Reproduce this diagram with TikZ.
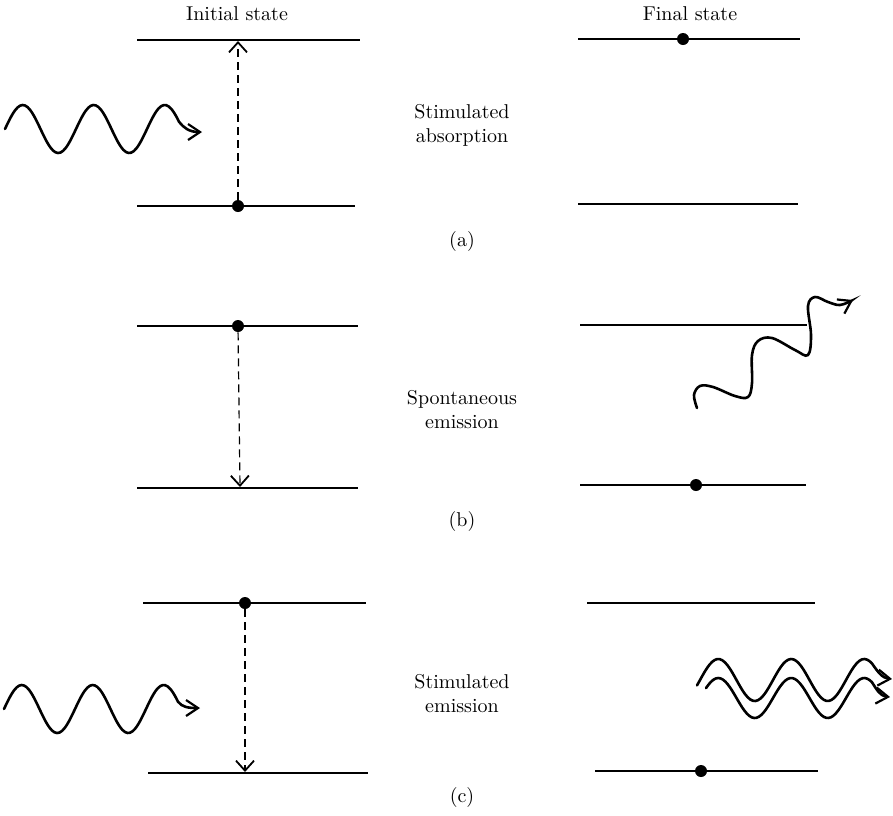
\documentclass[tikz,border=0pt]{standalone}
\usetikzlibrary{arrows.meta}

\begin{document}
\begin{tikzpicture}[x=0.5pt,y=-0.5pt,
  level/.style={line width=1.3pt},
  dot/.style={circle,fill,inner sep=0pt,minimum size=6pt},
  jump/.style={line width=0.6pt,dash pattern=on 4pt off 2.5pt,-{Straight Barb[length=5pt,width=9pt,line width=0.9pt]}},
  photon/.style={line width=1.3pt,line cap=round,-{Straight Barb[length=6pt,width=8pt,line width=1.1pt]}},
  caption/.style={align=center,inner sep=0pt}
]
\useasboundingbox (0,0) rectangle (893,815);

% column heads
\node[caption] (initial) at (237,14) {Initial state};
\node[caption] (final) at (690,14) {Final state};

% (a) stimulated absorption
\draw[level] (137,40) -- (360,40);
\draw[level] (137,206) -- (355,206);
\draw[level] (578,39) -- (800,39);
\draw[level] (578,204) -- (798,204);
\node[dot] (lowA) at (238,206) {};
\coordinate (upA) at (238,41);
\node[dot] (finA) at (683,39) {};
\draw[jump] (lowA) -- (upA);
\draw[photon] plot[domain=5:179,samples=70,smooth] (\x,{129-24*sin((\x-5)/71*360)})
  .. controls (184,128) and (189,132) .. (202,132);
\node[caption] (textA) at (462,125) {Stimulated\\absorption};
\node[caption] (capA) at (462,241) {(a)};

% (b) spontaneous emission
\draw[level] (137,326) -- (358,326);
\draw[level] (137,488) -- (358,488);
\draw[level] (580,325) -- (807,325);
\draw[level] (580,485) -- (806,485);
\node[dot] (upB) at (238,326) {};
\coordinate (lowB) at (240,487);
\node[dot] (finB) at (696,485) {};
\draw[jump] (upB) -- (lowB);
\draw[photon] plot[smooth,tension=0.6] coordinates {(697,408) (694,395) (700,386) (713,387)
  (735,396) (748,397) (752,383) (752,355) (758,341) (772,338) (795,350) (808,355)
  (811,335) (808,306) (815,297) (828,302) (840,305) (853,300)};
\node[caption] (textB) at (462,410) {Spontaneous\\emission};
\node[caption] (capB) at (462,521) {(b)};

% (c) stimulated emission
\draw[level] (143,603) -- (366,603);
\draw[level] (148,773) -- (368,773);
\draw[level] (587,603) -- (815,603);
\draw[level] (595,771) -- (818,771);
\node[dot] (upC) at (245,603) {};
\coordinate (lowC) at (245,772);
\node[dot] (finC) at (701,771) {};
\draw[jump] (upC) -- (lowC);
\draw[photon] plot[domain=4:178,samples=70,smooth] (\x,{709-24*sin((\x-4)/71*360)})
  .. controls (182,707) and (188,708) .. (200,708);
\draw[photon] plot[domain=697:872,samples=70,smooth] (\x,{680-21*sin((\x-700)/73*360)})
  .. controls (878,672) and (882,678) .. (892,679);
\draw[photon] plot[domain=706:872,samples=70,smooth] (\x,{698-20*sin((\x-700)/73*360)})
  .. controls (877,690) and (880,696) .. (890,697);
\node[caption] (textC) at (462,694) {Stimulated\\emission};
\node[caption] (capC) at (462,797) {(c)};
\end{tikzpicture}
\end{document}
